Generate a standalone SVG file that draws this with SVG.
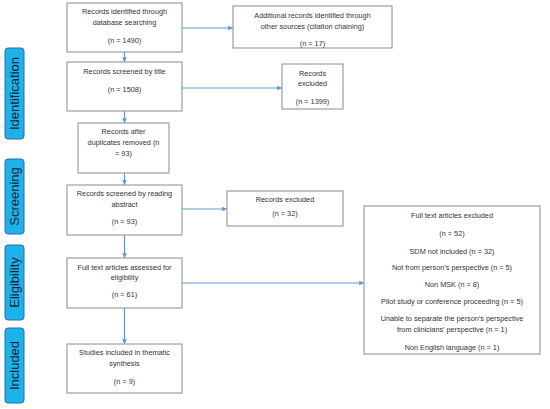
<svg xmlns="http://www.w3.org/2000/svg" width="550" height="409" viewBox="0 0 550 409">
<style>
.box{fill:#fff;stroke:#8c8c8c;stroke-width:1}
.t{font-family:"Liberation Sans",Arial,sans-serif;font-size:7.3px;fill:#333;text-anchor:middle}
.lab{fill:#1eb2ea;stroke:#2a6fa8;stroke-width:1}
.lt{font-family:"Liberation Sans",Arial,sans-serif;font-size:13px;fill:#1b2436;text-anchor:middle}
.c{stroke:#5b9bd5;stroke-width:1.2;fill:none;marker-end:url(#ah)}
</style>
<defs>
<marker id="ah" viewBox="0 0 6 6" refX="6" refY="3" markerWidth="4" markerHeight="4" orient="auto" markerUnits="strokeWidth">
<path d="M0,0 L6,3 L0,6 z" fill="#5b9bd5"/>
</marker>
</defs>
<rect width="550" height="409" fill="#fff"/>
<g id="stage-identification">
<rect class="lab" x="5" y="48" width="19" height="91" rx="3"/>
<text class="lt" transform="translate(19 93.5) rotate(-90)">Identification</text>
</g>
<g id="stage-screening">
<rect class="lab" x="5" y="159" width="19" height="75" rx="3"/>
<text class="lt" transform="translate(19 196.5) rotate(-90)">Screening</text>
</g>
<g id="stage-eligibility">
<rect class="lab" x="5" y="245" width="19" height="75" rx="3"/>
<text class="lt" transform="translate(19 282.5) rotate(-90)">Eligibility</text>
</g>
<g id="stage-included">
<rect class="lab" x="5" y="328" width="19" height="75" rx="3"/>
<text class="lt" transform="translate(19 365.5) rotate(-90)">Included</text>
</g>
<g id="connectors">
<path class="c" d="M124.5,52 V62"/>
<path class="c" d="M182,28 H233"/>
<path class="c" d="M182,88 H282"/>
<path class="c" d="M124.5,111 V123"/>
<path class="c" d="M124.5,173 V185"/>
<path class="c" d="M182,209 H227"/>
<path class="c" d="M124.5,235 V258"/>
<path class="c" d="M182,283 H364"/>
<path class="c" d="M124.5,308 V344"/>
</g>
<g id="n-db">
<rect class="box" x="67" y="3" width="115" height="49"/>
<text class="t" x="124.5" y="13.5">Records identified through</text>
<text class="t" x="124.5" y="24.5">database searching</text>
<text class="t" x="124.5" y="42.5">(n = 1490)</text>
</g>
<g id="n-additional">
<rect class="box" x="233" y="6" width="159" height="42"/>
<text class="t" x="312.5" y="17.5">Additional records identified through</text>
<text class="t" x="312.5" y="28.5">other sources (citation chaining)</text>
<text class="t" x="312.5" y="45.5">(n = 17)</text>
</g>
<g id="n-title">
<rect class="box" x="67" y="62" width="115" height="49"/>
<text class="t" x="124.5" y="73.5">Records screened by title</text>
<text class="t" x="124.5" y="91.5">(n = 1508)</text>
</g>
<g id="n-excl1399">
<rect class="box" x="282" y="64" width="61" height="45"/>
<text class="t" x="312.5" y="75.5">Records</text>
<text class="t" x="312.5" y="85.5">excluded</text>
<text class="t" x="312.5" y="103.5">(n = 1399)</text>
</g>
<g id="n-dup">
<rect class="box" x="78" y="123" width="91" height="50"/>
<text class="t" x="123.5" y="133.5">Records after</text>
<text class="t" x="123.5" y="144.5">duplicates removed (n</text>
<text class="t" x="123.5" y="155.5">= 93)</text>
</g>
<g id="n-abstract">
<rect class="box" x="67" y="185" width="115" height="50"/>
<text class="t" x="124.5" y="195.5">Records screened by reading</text>
<text class="t" x="124.5" y="206.5">abstract</text>
<text class="t" x="124.5" y="223.5">(n = 93)</text>
</g>
<g id="n-excl32">
<rect class="box" x="227" y="191" width="116" height="35"/>
<text class="t" x="285" y="201.5">Records excluded</text>
<text class="t" x="285" y="215.5">(n = 32)</text>
</g>
<g id="n-fulltext">
<rect class="box" x="67" y="258" width="115" height="50"/>
<text class="t" x="124.5" y="269.5">Full text articles assessed for</text>
<text class="t" x="124.5" y="279.5">eligibility</text>
<text class="t" x="124.5" y="296.5">(n = 61)</text>
</g>
<g id="n-ftexcl">
<rect class="box" x="364" y="206" width="176" height="148"/>
<text class="t" x="452" y="217.5">Full text articles excluded</text>
<text class="t" x="452" y="235.5">(n = 52)</text>
<text class="t" x="452" y="253.5">SDM not included (n = 32)</text>
<text class="t" x="452" y="269.5">Not from person’s perspective (n = 5)</text>
<text class="t" x="452" y="286.5">Non MSK (n = 8)</text>
<text class="t" x="452" y="303.5">Pilot study or conference proceeding (n = 5)</text>
<text class="t" x="452" y="320.5">Unable to separate the person’s perspective</text>
<text class="t" x="452" y="331.5">from clinicians’ perspective (n = 1)</text>
<text class="t" x="452" y="349.5">Non English language (n = 1)</text>
</g>
<g id="n-included">
<rect class="box" x="67" y="344" width="115" height="49"/>
<text class="t" x="124.5" y="354.5">Studies included in thematic</text>
<text class="t" x="124.5" y="365.5">synthesis</text>
<text class="t" x="124.5" y="383.5">(n = 9)</text>
</g>
</svg>
